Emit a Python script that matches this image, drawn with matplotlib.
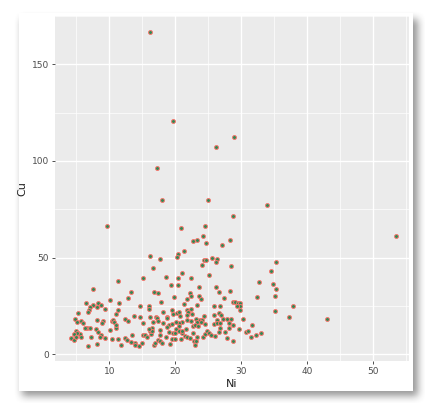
import numpy as np
import matplotlib
matplotlib.use("Agg")
import matplotlib.pyplot as plt
from matplotlib.patches import Rectangle

# ---- data (Ni, Cu) ----
ni = [16.08, 19.68, 28.95, 26.2, 17.24, 18.0, 24.94, 33.86, 28.69, 9.7, 20.79, 24.49, 53.36,
      23.22, 22.66, 24.13, 24.59, 28.23, 27.0, 21.3, 20.38, 20.18, 16.08, 25.5, 26.26, 26.2,
      24.39, 24.6, 17.6, 35.18, 24.08, 28.44, 16.64, 34.42, 21.0, 25.1, 18.56, 15.07, 11.32,
      20.38, 22.31, 32.64, 34.72, 19.32, 20.38, 23.53, 26.21, 35.28, 7.47, 13.24, 16.74, 17.4,
      26.67, 28.29, 22.16, 22.36, 23.63, 35.08, 32.39, 12.74, 19.77, 21.75, 23.93, 27.43, 10.15,
      17.75, 21.3, 6.40, 8.33, 8.68, 11.47, 23.27, 25.8, 28.74, 29.1, 29.45, 29.8, 29.8, 29.34,
      26.8, 7.52, 7.06, 6.86, 8.13, 9.29, 14.66, 16.03, 37.8, 6.71, 5.24, 11.32, 10.96, 15.93,
      21.75, 21.96, 19.47, 22.41, 19.57, 18.05, 20.18, 20.54, 20.69, 22.51, 21.75, 26.56, 29.8,
      25.86, 26.92, 24.34, 16.99, 13.75, 14.66, 16.18, 18.71, 18.66, 17.19, 17.34, 35.08, 37.27,
      42.93, 30.31, 4.73, 12.38, 12.84, 8.18, 5.74, 8.99, 10.41, 10.56, 5.04, 6.05, 8.94, 10.71,
      27.88, 28.49, 27.17, 26.31, 23.17, 23.68, 24.03, 23.32, 23.83, 22.31, 21.8, 21.04, 20.54,
      20.03, 19.07, 19.52, 15.12, 16.54, 18.16, 24.49, 25.8, 26.31, 26.72, 28.13, 28.69, 31.63,
      6.61, 7.12, 8.03, 10.05, 10.96, 10.96, 6.35, 16.43, 18.66, 20.59, 22.66, 22.91, 23.42,
      26.82, 28.13, 29.7, 30.72, 31.07, 4.93, 5.29, 5.6, 5.09, 4.69, 8.28, 8.73, 8.58, 9.29,
      7.16, 5.69, 4.17, 4.63, 4.93, 10.35, 11.27, 11.72, 8.08, 6.81, 12.38, 12.63, 13.29, 13.44,
      13.8, 13.95, 14.46, 14.91, 15.07, 15.37, 15.72, 16.28, 16.13, 16.48, 15.98, 16.79, 16.94,
      17.4, 17.65, 17.95, 17.6, 17.7, 18.56, 19.07, 19.22, 19.47, 19.68, 19.93, 19.98, 20.13,
      20.49, 20.79, 20.94, 21.04, 21.4, 21.6, 21.75, 22.26, 22.66, 22.77, 22.97, 23.12, 23.32,
      24.23, 24.49, 24.74, 25.05, 25.4, 26.06, 26.67, 27.48, 28.8, 27.83, 32.18, 32.95, 31.53]
cu = [166.6, 120.9, 112.4, 107.1, 96.4, 79.7, 79.7, 77.4, 71.7, 66.4, 65.3, 66.4, 61.4,
      59.1, 58.8, 61.0, 57.4, 59.3, 56.4, 53.6, 51.9, 50.5, 50.9, 50.0, 49.3, 47.6,
      49.0, 49.0, 49.1, 47.6, 46.0, 45.9, 44.8, 43.3, 42.2, 41.2, 40.2, 39.5, 38.1,
      39.5, 39.5, 37.6, 36.2, 35.9, 35.9, 34.7, 34.8, 33.8, 34.0, 32.2, 32.2, 31.7,
      32.2, 32.8, 31.6, 30.0, 30.2, 30.3, 29.8, 29.1, 29.5, 28.6, 28.4, 29.3, 27.9,
      27.2, 26.0, 26.6, 26.4, 25.7, 26.6, 25.5, 25.2, 26.9, 26.9, 26.4, 26.6, 25.2, 25.0,
      25.2, 25.3, 24.3, 22.9, 24.3, 23.6, 24.8, 24.8, 24.8, 21.9, 21.2, 22.8, 20.9, 23.3,
      22.8, 21.7, 22.9, 23.3, 21.0, 21.7, 21.2, 21.6, 20.0, 20.7, 20.5, 21.4, 22.9,
      20.3, 20.5, 19.8, 19.5, 19.8, 19.3, 19.1, 19.5, 18.6, 18.6, 17.4, 22.2, 19.1,
      18.4, 18.4, 18.1, 18.3, 17.2, 17.8, 17.4, 17.2, 17.1, 17.8, 16.6, 16.0, 16.4, 16.7,
      18.1, 18.1, 18.1, 17.8, 18.3, 17.9, 17.6, 16.6, 16.6, 17.4, 17.8, 16.9, 16.4,
      16.9, 15.2, 15.5, 16.0, 16.6, 16.0, 15.7, 15.9, 16.0, 16.0, 16.0, 15.2, 15.0,
      13.8, 13.8, 12.9, 12.6, 13.4, 15.0, 13.6, 13.8, 14.1, 14.7, 14.8, 15.2, 14.5,
      13.4, 13.6, 12.9, 11.4, 12.2, 12.1, 11.2, 10.7, 10.9, 10.3, 11.7, 10.0, 8.8, 8.3,
      9.1, 9.1, 8.3, 7.6, 8.8, 7.9, 7.9, 4.8, 5.2, 4.1, 8.6, 7.6, 6.4, 9.7,
      6.0, 4.8, 4.5, 5.9, 9.8, 9.8, 9.1, 10.7, 12.2, 12.1, 13.1, 4.8, 6.0,
      7.2, 6.6, 6.0, 10.2, 12.4, 8.8, 11.4, 5.5, 7.9, 10.9, 10.9, 7.8, 13.1,
      12.1, 7.8, 11.2, 12.1, 9.5, 12.8, 8.8, 8.3, 10.9, 6.9, 4.8, 6.6, 8.8,
      9.1, 10.7, 12.1, 11.0, 9.8, 9.3, 11.6, 11.6, 6.6, 8.3, 10.2, 10.9, 9.0]

x_ticks = [10, 20, 30, 40, 50]
y_ticks = [0, 50, 100, 150]

W, H = 425, 403
fig = plt.figure(figsize=(W / 100, H / 100), dpi=100)
fig.patch.set_facecolor("white")

# ---- card with drop shadow ----
bg = fig.add_axes([0, 0, 1, 1])
bg.set_xlim(0, W)
bg.set_ylim(H, 0)
bg.axis("off")
card = (19, 13, 413, 391)
mask = np.zeros((H, W))
mask[card[1] + 6:card[3] + 5, card[0] + 3:card[2] + 5] = 1.0
k = np.ones(9) / 9.0
for _ in range(2):
    mask = np.apply_along_axis(lambda r: np.convolve(r, k, mode="same"), 1, mask)
    mask = np.apply_along_axis(lambda c: np.convolve(c, k, mode="same"), 0, mask)
rgba = np.zeros((H, W, 4))
rgba[..., :3] = 0.25
rgba[..., 3] = mask * 0.55
bg.imshow(rgba, extent=(0, W, H, 0), interpolation="bilinear", zorder=0)
bg.add_patch(Rectangle((card[0], card[1]), card[2] - card[0], card[3] - card[1],
                       facecolor="white", edgecolor="none", zorder=1))

# ---- plot panel ----
ax = fig.add_axes([55 / W, 1 - 361 / H, (409 - 55) / W, (361 - 16) / H])
ax.set_facecolor("#EBEBEB")
ax.scatter(ni, cu, s=8, facecolor="#2F8A55", edgecolor="#F8766D", linewidths=0.7, zorder=3)

ax.set_xlim(1.75, 55.4)
ax.set_ylim(-3.5, 175)
ax.set_xticks(x_ticks)
ax.set_yticks(y_ticks)
ax.set_xticks([5, 15, 25, 35, 45, 55], minor=True)
ax.set_yticks([25, 75, 125, 175], minor=True)
ax.grid(which="major", color="white", linewidth=1.0)
ax.grid(which="minor", color="white", linewidth=0.5)
ax.set_axisbelow(True)
for s in ax.spines.values():
    s.set_visible(False)
ax.tick_params(which="major", length=2.5, width=0.6, color="#333333",
               labelsize=6.5, labelcolor="#4D4D4D", pad=2)
ax.tick_params(which="minor", length=0)
ax.set_xlabel("Ni", fontsize=8, color="#222222", labelpad=2)
ax.set_ylabel("Cu", fontsize=8, color="#222222", labelpad=3)

fig.savefig("out.png", dpi=100)
